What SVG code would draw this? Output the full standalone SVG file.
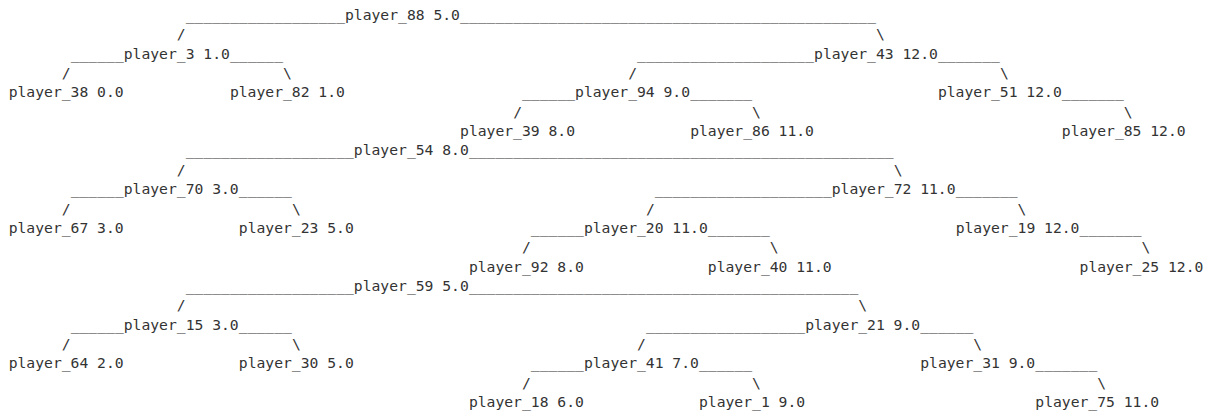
<svg xmlns="http://www.w3.org/2000/svg" width="1212" height="416" viewBox="0 0 1212 416">
  <style>
    text { font-family: "DejaVu Sans Mono", "Liberation Mono", monospace; font-size: 14.7px; fill: #333333; white-space: pre; }
  </style>
  <rect x="0" y="0" width="1212" height="416" fill="#ffffff"/>

  <!-- Connectors: underscore runs and slashes, one monospace column = 8.85px -->
  <g id="connectors">
    <!-- tree rooted at player_88 -->
    <text x="185.7" y="20" textLength="159.3" lengthAdjust="spacing">__________________</text>
    <text x="460.05" y="20" textLength="415.95" lengthAdjust="spacing">_______________________________________________</text>
    <text x="176.85" y="39.35">/</text>
    <text x="876" y="39.35">\</text>
    <text x="70.65" y="58.7" textLength="53.1" lengthAdjust="spacing">______</text>
    <text x="229.95" y="58.7" textLength="53.1" lengthAdjust="spacing">______</text>
    <text x="637.05" y="58.7" textLength="177" lengthAdjust="spacing">____________________</text>
    <text x="937.95" y="58.7" textLength="61.95" lengthAdjust="spacing">_______</text>
    <text x="61.8" y="78.05">/</text>
    <text x="283.05" y="78.05">\</text>
    <text x="628.2" y="78.05">/</text>
    <text x="999.9" y="78.05">\</text>
    <text x="522" y="97.4" textLength="53.1" lengthAdjust="spacing">______</text>
    <text x="690.15" y="97.4" textLength="61.95" lengthAdjust="spacing">_______</text>
    <text x="1061.85" y="97.4" textLength="61.95" lengthAdjust="spacing">_______</text>
    <text x="513.15" y="116.75">/</text>
    <text x="752.1" y="116.75">\</text>
    <text x="1123.8" y="116.75">\</text>

    <!-- tree rooted at player_54 -->
    <text x="185.7" y="155.45" textLength="168.15" lengthAdjust="spacing">___________________</text>
    <text x="468.9" y="155.45" textLength="424.8" lengthAdjust="spacing">________________________________________________</text>
    <text x="176.85" y="174.8">/</text>
    <text x="893.7" y="174.8">\</text>
    <text x="70.65" y="194.15" textLength="53.1" lengthAdjust="spacing">______</text>
    <text x="238.8" y="194.15" textLength="53.1" lengthAdjust="spacing">______</text>
    <text x="654.75" y="194.15" textLength="177" lengthAdjust="spacing">____________________</text>
    <text x="955.65" y="194.15" textLength="61.95" lengthAdjust="spacing">_______</text>
    <text x="61.8" y="213.5">/</text>
    <text x="291.9" y="213.5">\</text>
    <text x="645.9" y="213.5">/</text>
    <text x="1017.6" y="213.5">\</text>
    <text x="530.85" y="232.85" textLength="53.1" lengthAdjust="spacing">______</text>
    <text x="707.85" y="232.85" textLength="61.95" lengthAdjust="spacing">_______</text>
    <text x="1079.55" y="232.85" textLength="61.95" lengthAdjust="spacing">_______</text>
    <text x="522" y="252.2">/</text>
    <text x="769.8" y="252.2">\</text>
    <text x="1141.5" y="252.2">\</text>

    <!-- tree rooted at player_59 -->
    <text x="185.7" y="290.9" textLength="168.15" lengthAdjust="spacing">___________________</text>
    <text x="468.9" y="290.9" textLength="389.4" lengthAdjust="spacing">____________________________________________</text>
    <text x="176.85" y="310.25">/</text>
    <text x="858.3" y="310.25">\</text>
    <text x="70.65" y="329.6" textLength="53.1" lengthAdjust="spacing">______</text>
    <text x="238.8" y="329.6" textLength="53.1" lengthAdjust="spacing">______</text>
    <text x="645.9" y="329.6" textLength="159.3" lengthAdjust="spacing">__________________</text>
    <text x="920.25" y="329.6" textLength="53.1" lengthAdjust="spacing">______</text>
    <text x="61.8" y="348.95">/</text>
    <text x="291.9" y="348.95">\</text>
    <text x="637.05" y="348.95">/</text>
    <text x="973.35" y="348.95">\</text>
    <text x="530.85" y="368.3" textLength="53.1" lengthAdjust="spacing">______</text>
    <text x="699" y="368.3" textLength="53.1" lengthAdjust="spacing">______</text>
    <text x="1035.3" y="368.3" textLength="61.95" lengthAdjust="spacing">_______</text>
    <text x="522" y="387.65">/</text>
    <text x="752.1" y="387.65">\</text>
    <text x="1097.25" y="387.65">\</text>
  </g>

  <!-- Nodes: tree rooted at player_88 -->
  <g id="node-player_88"><text x="345" y="20">player_88 5.0</text></g>
  <g id="node-player_3"><text x="123.75" y="58.7">player_3 1.0</text></g>
  <g id="node-player_43"><text x="814.05" y="58.7">player_43 12.0</text></g>
  <g id="node-player_38"><text x="8.7" y="97.4">player_38 0.0</text></g>
  <g id="node-player_82"><text x="229.95" y="97.4">player_82 1.0</text></g>
  <g id="node-player_94"><text x="575.1" y="97.4">player_94 9.0</text></g>
  <g id="node-player_51"><text x="937.95" y="97.4">player_51 12.0</text></g>
  <g id="node-player_39"><text x="460.05" y="136.1">player_39 8.0</text></g>
  <g id="node-player_86"><text x="690.15" y="136.1">player_86 11.0</text></g>
  <g id="node-player_85"><text x="1061.85" y="136.1">player_85 12.0</text></g>

  <!-- Nodes: tree rooted at player_54 -->
  <g id="node-player_54"><text x="353.85" y="155.45">player_54 8.0</text></g>
  <g id="node-player_70"><text x="123.75" y="194.15">player_70 3.0</text></g>
  <g id="node-player_72"><text x="831.75" y="194.15">player_72 11.0</text></g>
  <g id="node-player_67"><text x="8.7" y="232.85">player_67 3.0</text></g>
  <g id="node-player_23"><text x="238.8" y="232.85">player_23 5.0</text></g>
  <g id="node-player_20"><text x="583.95" y="232.85">player_20 11.0</text></g>
  <g id="node-player_19"><text x="955.65" y="232.85">player_19 12.0</text></g>
  <g id="node-player_92"><text x="468.9" y="271.55">player_92 8.0</text></g>
  <g id="node-player_40"><text x="707.85" y="271.55">player_40 11.0</text></g>
  <g id="node-player_25"><text x="1079.55" y="271.55">player_25 12.0</text></g>

  <!-- Nodes: tree rooted at player_59 -->
  <g id="node-player_59"><text x="353.85" y="290.9">player_59 5.0</text></g>
  <g id="node-player_15"><text x="123.75" y="329.6">player_15 3.0</text></g>
  <g id="node-player_21"><text x="805.2" y="329.6">player_21 9.0</text></g>
  <g id="node-player_64"><text x="8.7" y="368.3">player_64 2.0</text></g>
  <g id="node-player_30"><text x="238.8" y="368.3">player_30 5.0</text></g>
  <g id="node-player_41"><text x="583.95" y="368.3">player_41 7.0</text></g>
  <g id="node-player_31"><text x="920.25" y="368.3">player_31 9.0</text></g>
  <g id="node-player_18"><text x="468.9" y="407">player_18 6.0</text></g>
  <g id="node-player_1"><text x="699" y="407">player_1 9.0</text></g>
  <g id="node-player_75"><text x="1035.3" y="407">player_75 11.0</text></g>
</svg>
